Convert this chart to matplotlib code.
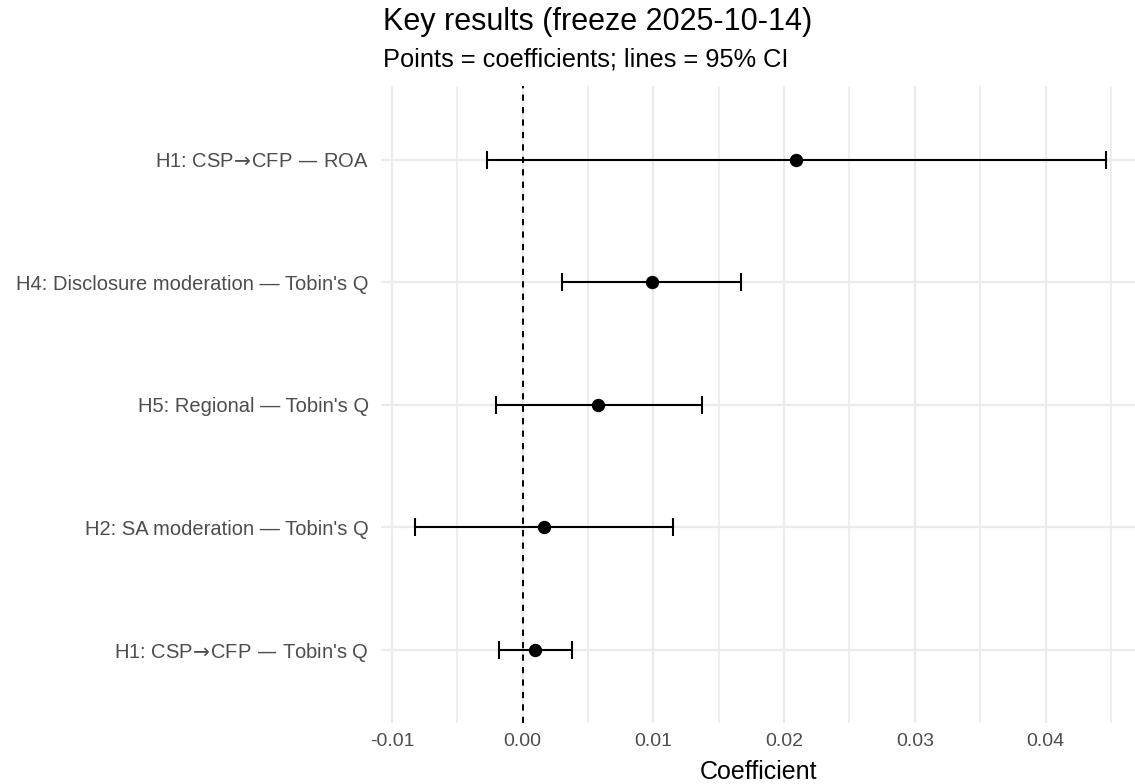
import matplotlib
matplotlib.use("Agg")
import matplotlib.pyplot as plt

plt.rcParams['font.family'] = ['Liberation Sans', 'DejaVu Sans']
plt.rcParams['mathtext.fontset'] = 'dejavusans'

# Datos (de arriba hacia abajo)
flecha = r"$\!\rightarrow\!$"
etiquetas = [
    "H1: CSP" + flecha + "CFP \u2014 ROA",
    "H4: Disclosure moderation \u2014 Tobin's Q",
    "H5: Regional \u2014 Tobin's Q",
    "H2: SA moderation \u2014 Tobin's Q",
    "H1: CSP" + flecha + "CFP \u2014 Tobin's Q",
]
coef = [0.0209, 0.0099, 0.0058, 0.00165, 0.00096]
ci_low = [-0.0027, 0.0030, -0.00205, -0.0082, -0.00184]
ci_high = [0.0446, 0.0167, 0.0137, 0.01152, 0.00377]

fig = plt.figure(figsize=(11.35, 7.84), dpi=100)
ax = fig.add_axes([0.3361, 0.0772, 1 - 0.3361, 0.8125])

n = len(etiquetas)
y = [n - 1 - i for i in range(n)]
err_lo = [c - l for c, l in zip(coef, ci_low)]
err_hi = [h - c for c, h in zip(coef, ci_high)]

ax.axvline(0, color='black', linestyle=(0, (3.2, 3.2)), linewidth=1.4, zorder=2)
ax.errorbar(coef, y, xerr=[err_lo, err_hi], fmt='o', color='black',
            markersize=8.6, elinewidth=1.5, capsize=6.5, capthick=1.5, zorder=3)

ax.set_xlim(-0.0108, 0.04684)
ax.set_ylim(-0.6, n - 1 + 0.6)
ax.set_yticks(y)
ax.set_yticklabels(etiquetas)
ax.set_xticks([-0.01, 0.00, 0.01, 0.02, 0.03, 0.04])
ax.set_xticklabels(["-0.01", "0.00", "0.01", "0.02", "0.03", "0.04"])
ax.set_xticks([-0.005, 0.005, 0.015, 0.025, 0.035, 0.045], minor=True)

ax.tick_params(axis='both', which='both', length=0, labelcolor='#4D4D4D')
ax.tick_params(axis='y', pad=9, labelsize=14.5)
ax.tick_params(axis='x', pad=7, labelsize=14)

ax.grid(True, which='major', color='#EBEBEB', linewidth=1.6, zorder=0)
ax.grid(True, which='minor', axis='x', color='#EBEBEB', linewidth=1.2, zorder=0)
ax.set_axisbelow(True)
for s in ax.spines.values():
    s.set_visible(False)

ax.set_xlabel("Coefficient", fontsize=18, labelpad=7)

fig.text(0.3374, 1 - 30 / 784, "Key results (freeze 2025-10-14)", fontsize=22,
         ha='left', va='baseline')
fig.text(0.3374, 1 - 67 / 784, "Points = coefficients; lines = 95% CI", fontsize=18.3,
         ha='left', va='baseline')

fig.savefig("out.png", dpi=100)
